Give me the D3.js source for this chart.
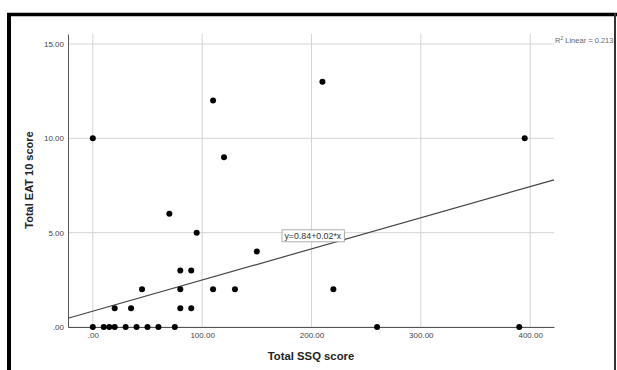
<!DOCTYPE html>
<html>
<head>
<meta charset="utf-8">
<script src="https://cdn.jsdelivr.net/npm/d3@7"></script>
<style>
  body { margin: 0; background: #fff; }
  svg { display: block; font-family: "Liberation Sans", Arial, sans-serif; }
</style>
</head>
<body>
<div id="chart"></div>
<script>
// Data
const ssq = [0, 10, 15, 20, 30, 40, 50, 60, 75, 260, 390,
             20, 35, 80, 90,
             45, 80, 110, 130, 220,
             80, 90,
             150, 95, 70, 120, 0, 395, 110, 210];
const eat = [0, 0, 0, 0, 0, 0, 0, 0, 0, 0, 0,
             1, 1, 1, 1,
             2, 2, 2, 2, 2,
             3, 3,
             4, 5, 6, 9, 10, 10, 12, 13];
const xTicks = [0, 100, 200, 300, 400];
const yTicks = [0, 5, 10, 15];
const fitIntercept = 0.84;
const fitSlope = 0.0165;
const fitLabel = "y=0.84+0.02*x";
const r2Label = "0.213";

const width = 617, height = 370;
const margin = { top: 34, right: 63, bottom: 43, left: 68 };

const svg = d3.select("#chart").append("svg")
  .attr("width", width)
  .attr("height", height);

// outer frame
svg.append("line").attr("x1", 7).attr("x2", 617).attr("y1", 14.5).attr("y2", 14.5)
  .attr("stroke", "#000").attr("stroke-width", 3.5);
svg.append("line").attr("x1", 9).attr("x2", 9).attr("y1", 13).attr("y2", 370)
  .attr("stroke", "#000").attr("stroke-width", 4);
svg.append("line").attr("x1", 615).attr("x2", 615).attr("y1", 13).attr("y2", 370)
  .attr("stroke", "#333").attr("stroke-width", 2);

const x = d3.scaleLinear()
  .domain([-22.7, 421.8])
  .range([margin.left, width - margin.right]);

const y = d3.scaleLinear()
  .domain([0, 15.53])
  .range([height - margin.bottom, margin.top]);

const fmt = d => d === 0 ? ".00" : d3.format(".2f")(d);

// gridlines
svg.append("g")
  .selectAll("line")
  .data(xTicks)
  .join("line")
  .attr("x1", d => x(d)).attr("x2", d => x(d))
  .attr("y1", y.range()[1]).attr("y2", y(0))
  .attr("stroke", "#d4d4d4");

svg.append("g")
  .selectAll("line")
  .data(yTicks)
  .join("line")
  .attr("x1", x.range()[0]).attr("x2", x.range()[1])
  .attr("y1", d => y(d)).attr("y2", d => y(d))
  .attr("stroke", "#d4d4d4");

// axes (SPSS style: lines only, no tick marks)
const xAxis = svg.append("g")
  .attr("transform", `translate(0,${y(0)})`)
  .call(d3.axisBottom(x).tickValues(xTicks).tickFormat(fmt).tickSize(0).tickPadding(5));
xAxis.select(".domain").attr("stroke", "#555");
xAxis.selectAll("text").attr("fill", "#444").style("font-size", "8px");

const yAxis = svg.append("g")
  .attr("transform", `translate(${x.range()[0]},0)`)
  .call(d3.axisLeft(y).tickValues(yTicks).tickFormat(fmt).tickSize(0).tickPadding(4));
yAxis.select(".domain").attr("stroke", "#555");
yAxis.selectAll("text").attr("fill", "#444").style("font-size", "8px");

// fit line
const xd = x.domain();
svg.append("line")
  .attr("x1", x(xd[0])).attr("y1", y(fitIntercept + fitSlope * xd[0]))
  .attr("x2", x(xd[1])).attr("y2", y(fitIntercept + fitSlope * xd[1]))
  .attr("stroke", "#444")
  .attr("stroke-width", 1.2);

// equation label
const lab = svg.append("g").attr("transform", `translate(${x(173)},${y(5.15)})`);
const labText = lab.append("text")
  .attr("x", 2.5).attr("y", 9)
  .attr("fill", "#333")
  .style("font-size", "8.8px")
  .text(fitLabel);
const bb = labText.node().getBBox();
lab.insert("rect", "text")
  .attr("x", 0).attr("y", 0)
  .attr("width", bb.width + 5).attr("height", 12)
  .attr("fill", "#fff")
  .attr("stroke", "#999")
  .attr("stroke-width", 0.8);

// points
svg.append("g")
  .selectAll("circle")
  .data(ssq.map((v, i) => [v, eat[i]]))
  .join("circle")
  .attr("cx", d => x(d[0]))
  .attr("cy", d => y(d[1]))
  .attr("r", 3)
  .attr("fill", "#000");

// R squared label
const r2 = svg.append("text")
  .attr("x", x.range()[1] + 1)
  .attr("y", y(15) - 1)
  .attr("fill", "#666")
  .style("font-size", "7.5px");
r2.append("tspan").text("R");
r2.append("tspan").attr("dy", -3).style("font-size", "5px").text("2");
r2.append("tspan").attr("dy", 3).text(" Linear = " + r2Label);

// axis titles
svg.append("text")
  .attr("x", (x.range()[0] + x.range()[1]) / 2)
  .attr("y", 360)
  .attr("text-anchor", "middle")
  .style("font-size", "11.3px")
  .style("font-weight", "bold")
  .attr("fill", "#222")
  .text("Total SSQ score");

svg.append("text")
  .attr("transform", "rotate(-90)")
  .attr("x", -180)
  .attr("y", 33)
  .attr("text-anchor", "middle")
  .style("font-size", "11px")
  .style("font-weight", "bold")
  .attr("fill", "#222")
  .text("Total EAT 10 score");
</script>
</body>
</html>
